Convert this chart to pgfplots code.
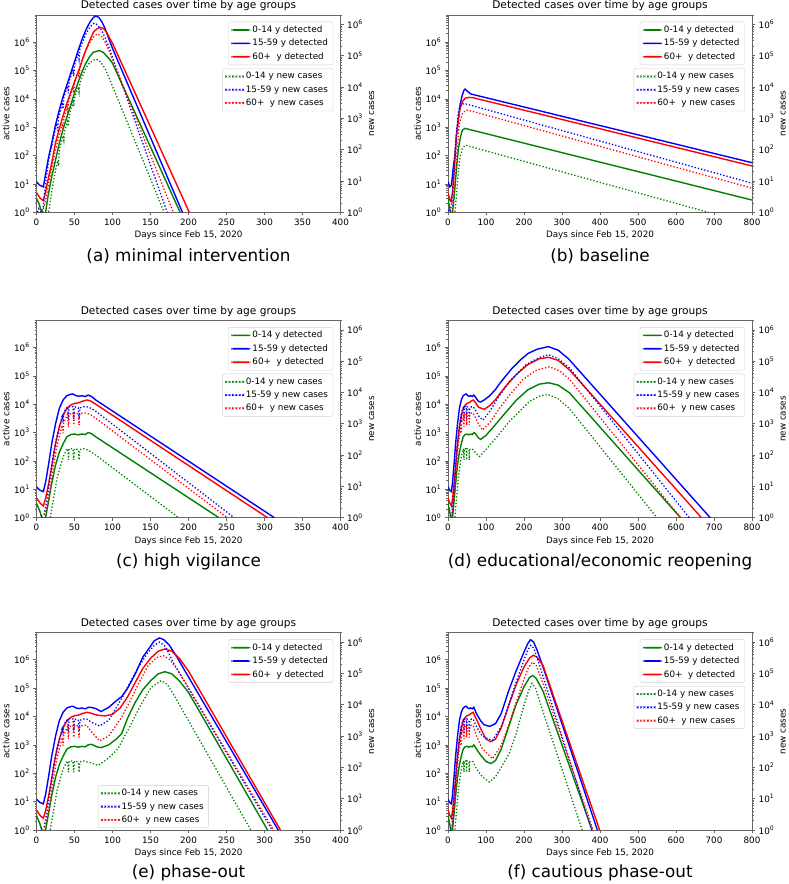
\documentclass[border=0pt]{standalone}
\usepackage{fontspec}
\setmainfont{DejaVu Sans}
\usepackage{pgfplots}
\pgfplotsset{compat=1.18}
\definecolor{cg}{rgb}{0,0.5,0}
\definecolor{cbl}{rgb}{0,0,1}
\definecolor{crd}{rgb}{1,0,0}
\definecolor{spine}{gray}{0.4}
\newcommand\tickf{\fontsize{8.8}{10}\selectfont}
\newcommand\labf{\fontsize{8.8}{10}\selectfont}
\newcommand\titf{\fontsize{10.6}{12}\selectfont}
\newcommand\capf{\fontsize{16.8}{19}\selectfont}
\pgfplotsset{
  scale only axis, width=304pt, height=197.3pt,
  xmin=0, ymin=1,
  axis line style={spine, line width=0.6pt},
  tick align=outside, major tick length=3.2pt, minor tick length=1.8pt,
  every tick/.append style={spine, line width=0.6pt},
  tick label style={font=\tickf, text=black},
  ytick={1,10,100,1000,10000,100000,1000000},
  yticklabels={10\textsuperscript{0},10\textsuperscript{1},10\textsuperscript{2},10\textsuperscript{3},10\textsuperscript{4},10\textsuperscript{5},10\textsuperscript{6}},
  minor ytick={2,3,4,5,6,7,8,9,20,30,40,50,60,70,80,90,200,300,400,500,600,700,800,900,2000,3000,4000,5000,6000,7000,8000,9000,2e4,3e4,4e4,5e4,6e4,7e4,8e4,9e4,2e5,3e5,4e5,5e5,6e5,7e5,8e5,9e5,2e6,3e6,4e6,5e6,6e6,7e6,8e6,9e6},
  legend cell align=left,
  legend image code/.code={\fill[#1, draw=none] (0pt,-0.85pt) rectangle (19pt,0.85pt);},
  legend style={draw=black!18, rounded corners=2pt, fill=white, font=\labf, inner xsep=3pt, inner ysep=2pt, row sep=1.2pt},
  xlabel style={font=\labf},
  ylabel style={font=\labf},
  title style={font=\titf},
  every axis title shift=0pt,
}
\newcommand\dotimg[1]{\fill[#1, draw=none] (0pt,-0.7pt) rectangle (1.4pt,0.7pt) (3.4pt,-0.7pt) rectangle (4.8pt,0.7pt) (6.8pt,-0.7pt) rectangle (8.2pt,0.7pt) (10.2pt,-0.7pt) rectangle (11.6pt,0.7pt) (13.6pt,-0.7pt) rectangle (15pt,0.7pt) (17pt,-0.7pt) rectangle (18.4pt,0.7pt);}
\begin{document}
\begin{tikzpicture}
\path[use as bounding box] (0,0) rectangle (789pt,884pt);
% ================= (a) =================
\begin{axis}[at={(36.5pt,671.7pt)}, anchor=south west, xmax=400, ymode=log, ymax=9e6,
  xtick={0,50,100,150,200,250,300,350,400}, xticklabels={0,50,100,150,200,250,300,350,400},
  xtick pos=left, ytick pos=left,
  xlabel={Days since Feb 15, 2020}, ylabel={active cases}, title={Detected cases over time by age groups},
  xlabel style={at={(axis description cs:0.5,-0.116)}, anchor=center},
  ylabel style={at={(axis description cs:-0.100,0.5)}, anchor=center},
  title style={at={(axis description cs:0.5,1.046)}, anchor=center},
  legend style={at={(0.976,0.966)}, anchor=north east}]
\addplot[color=cg, line width=1.4pt] coordinates {(0,3.1) (3,2.1) (7,1) (9,0.6) (12,1) (15,3.5) (20,18) (25,69) (30,270) (36,1050) (40,2300) (45,6000) (50,1.6e4) (55,4e4) (60,9.1e4) (65,1.8e5) (70,3.1e5) (75,4.4e5) (83,5e5) (88,4.3e5) (95,2.7e5) (100,1.8e5) (189,1)};
\addlegendentry{0-14 y detected}
\addplot[color=cbl, line width=1.4pt] coordinates {(0,12) (4,9.1) (9,7.9) (12,23) (16,91) (20,270) (25,1200) (30,4000) (35,1.2e4) (40,3.1e4) (45,7.9e4) (50,2e5) (55,5.2e5) (60,1.26e6) (65,2.7e6) (70,4.9e6) (75,7.4e6) (78,8.3e6) (82,7.4e6) (86,5.2e6) (90,3.1e6) (95,1.35e6) (100,6e5) (192,1)};
\addlegendentry{15-59 y detected}
\addplot[color=crd, line width=1.4pt] coordinates {(0,4.9) (5,3.1) (9,2.6) (12,5.4) (16,18) (20,54) (25,280) (30,890) (36,3100) (40,7100) (45,1.66e4) (50,4e4) (55,8.9e4) (60,2.2e5) (65,5.2e5) (70,1.12e6) (75,2.24e6) (80,3e6) (84,3.3e6) (88,3e6) (92,2.3e6) (96,1.4e6) (100,9.1e5) (201,1)};
\addlegendentry{60+\ \ y detected}
\end{axis}
\begin{axis}[at={(36.5pt,671.7pt)}, anchor=south west, xmax=400, ymode=log, ymax=2e6,
  axis x line=none, axis y line*=right, ylabel={new cases},
  ylabel style={at={(axis description cs:1.103,0.5)}, anchor=center},
  legend image code/.code={\dotimg{#1}},
  legend style={at={(0.976,0.73)}, anchor=north east}]
\addplot[color=cg, line width=1.3pt, dash pattern=on 1.3pt off 2pt] coordinates {(14,0.5) (16,1) (20,4.6) (25,22) (28,45) (29,30) (30,98) (35,280) (36,200) (37,400) (40,690) (41,800) (42,560) (43,1150) (45,1900) (48,3300) (49,2400) (50,4400) (55,1e4) (56,7000) (57,1.3e4) (60,2.1e4) (65,4e4) (70,6e4) (78,7.9e4) (84,6.5e4) (90,4e4) (95,2.1e4) (168,1)};
\addlegendentry{0-14 y new cases}
\addplot[color=cbl, line width=1.3pt, dash pattern=on 1.3pt off 2pt] coordinates {(0,0.8) (3,1.3) (6,1) (9,1.5) (12,8.5) (16,47) (20,126) (25,480) (27,690) (28,400) (29,1000) (34,3200) (35,2000) (36,4700) (41,1.07e4) (42,6300) (43,1.5e4) (48,3.6e4) (49,2.24e4) (50,5.1e4) (55,1.2e5) (56,7.9e4) (57,1.58e5) (60,2.5e5) (65,5e5) (70,8.1e5) (76,1.1e6) (80,9.8e5) (85,6.8e5) (90,3.9e5) (95,1.95e5) (172,1)};
\addlegendentry{15-59 y new cases}
\addplot[color=crd, line width=1.3pt, dash pattern=on 1.3pt off 2pt] coordinates {(5,0.5) (8,1) (12,2.5) (16,8.5) (20,26) (25,98) (30,295) (34,690) (35,450) (36,1000) (40,2400) (41,1600) (42,3200) (45,5600) (48,1e4) (49,6600) (50,1.3e4) (55,3.1e4) (56,2e4) (57,3.8e4) (60,7.4e4) (65,1.55e5) (70,2.6e5) (75,3.9e5) (80,5e5) (85,4.3e5) (90,2.8e5) (95,1.55e5) (180,1)};
\addlegendentry{60+\ \ y new cases}
\end{axis}
% ================= (b) =================
\begin{axis}[at={(448pt,671.7pt)}, anchor=south west, xmax=800, ymode=log, ymax=9e6,
  xtick={0,100,200,300,400,500,600,700,800}, xticklabels={0,100,200,300,400,500,600,700,800},
  xtick pos=left, ytick pos=left,
  xlabel={Days since Feb 15, 2020}, ylabel={active cases}, title={Detected cases over time by age groups},
  xlabel style={at={(axis description cs:0.5,-0.116)}, anchor=center},
  ylabel style={at={(axis description cs:-0.100,0.5)}, anchor=center},
  title style={at={(axis description cs:0.5,1.046)}, anchor=center},
  legend style={at={(0.976,0.966)}, anchor=north east}]
\addplot[color=cg, line width=1.4pt] coordinates {(0,3.1) (5,1.2) (8,0.7) (12,1) (17,4.7) (22,31) (27,160) (33,470) (38,790) (45,910) (50,870) (800,2.7)};
\addlegendentry{0-14 y detected}
\addplot[color=cbl, line width=1.4pt] coordinates {(0,12) (5,7.9) (9,8.9) (14,40) (18,100) (22,500) (27,1800) (32,6300) (37,1.26e4) (42,2e4) (45,2.2e4) (50,1.9e4) (60,1.48e4) (800,56)};
\addlegendentry{15-59 y detected}
\addplot[color=crd, line width=1.4pt] coordinates {(0,4.9) (5,2.7) (8,2.4) (12,5.4) (18,69) (22,470) (27,1800) (32,4700) (38,7900) (45,1.05e4) (55,1.12e4) (65,1.1e4) (800,43)};
\addlegendentry{60+\ \ y detected}
\end{axis}
\begin{axis}[at={(448pt,671.7pt)}, anchor=south west, xmax=800, ymode=log, ymax=2e6,
  axis x line=none, axis y line*=right, ylabel={new cases},
  ylabel style={at={(axis description cs:1.103,0.5)}, anchor=center},
  legend image code/.code={\dotimg{#1}},
  legend style={at={(0.976,0.73)}, anchor=north east}]
\addplot[color=cg, line width=1.3pt, dash pattern=on 1.3pt off 2pt] coordinates {(16,0.5) (18,1) (22,3.2) (27,18) (32,60) (38,110) (45,140) (685,1)};
\addlegendentry{0-14 y new cases}
\addplot[color=cbl, line width=1.3pt, dash pattern=on 1.3pt off 2pt] coordinates {(0,1.2) (3,0.8) (8,1.5) (12,3.2) (18,47) (23,430) (28,1900) (35,2700) (42,3000) (800,8.5)};
\addlegendentry{15-59 y new cases}
\addplot[color=crd, line width=1.3pt, dash pattern=on 1.3pt off 2pt] coordinates {(7,0.6) (10,1) (14,2.5) (18,8.5) (24,98) (30,690) (38,1450) (48,1860) (55,1800) (800,5.9)};
\addlegendentry{60+\ \ y new cases}
\end{axis}
% ================= (c) =================
\begin{axis}[at={(36.5pt,366.3pt)}, anchor=south west, xmax=400, ymode=log, ymax=9e6,
  xtick={0,50,100,150,200,250,300,350,400}, xticklabels={0,50,100,150,200,250,300,350,400},
  xtick pos=left, ytick pos=left,
  xlabel={Days since Feb 15, 2020}, ylabel={active cases}, title={Detected cases over time by age groups},
  xlabel style={at={(axis description cs:0.5,-0.116)}, anchor=center},
  ylabel style={at={(axis description cs:-0.100,0.5)}, anchor=center},
  title style={at={(axis description cs:0.5,1.046)}, anchor=center},
  legend style={at={(0.976,0.966)}, anchor=north east}]
\addplot[color=cg, line width=1.4pt] coordinates {(0,3.2) (4,1.8) (7,1) (9,0.6) (12,1) (16,4) (20,16) (25,71) (30,200) (35,400) (40,710) (45,850) (50,890) (55,830) (60,890) (64,850) (68,1000) (72,930) (78,710) (240,1)};
\addlegendentry{0-14 y detected}
\addplot[color=cbl, line width=1.4pt] coordinates {(0,12.3) (4,9.5) (9,8.3) (12,18) (16,79) (20,400) (25,2000) (30,7100) (35,1.41e4) (40,2e4) (45,2.24e4) (48,2.3e4) (52,2e4) (56,1.9e4) (60,2e4) (64,1.86e4) (68,2.1e4) (72,1.9e4) (78,1.41e4) (313,1)};
\addlegendentry{15-59 y detected}
\addplot[color=crd, line width=1.4pt] coordinates {(0,5) (5,3.2) (9,2.6) (12,4.8) (16,16) (20,63) (25,400) (30,1600) (35,4000) (40,7100) (45,9300) (50,1.07e4) (55,1.12e4) (60,1.26e4) (66,1.41e4) (70,1.35e4) (78,1e4) (304,1)};
\addlegendentry{60+\ \ y detected}
\end{axis}
\begin{axis}[at={(36.5pt,366.3pt)}, anchor=south west, xmax=400, ymode=log, ymax=2e6,
  axis x line=none, axis y line*=right, ylabel={new cases},
  ylabel style={at={(axis description cs:1.103,0.5)}, anchor=center},
  legend image code/.code={\dotimg{#1}},
  legend style={at={(0.976,0.73)}, anchor=north east}]
\addplot[color=cg, line width=1.3pt, dash pattern=on 1.3pt off 2pt] coordinates {(15,0.5) (18,1) (22,3.5) (27,18) (32,50) (36,100) (40,150) (41,160) (42,70) (43,160) (48,160) (49,70) (50,160) (55,150) (56,70) (57,150) (62,160) (66,150) (72,125) (78,100) (187,1)};
\addlegendentry{0-14 y new cases}
\addplot[color=cbl, line width=1.3pt, dash pattern=on 1.3pt off 2pt] coordinates {(3,0.7) (6,1.1) (10,1.26) (14,4) (18,20) (22,100) (27,400) (32,1100) (34,2000) (35,1100) (36,2400) (40,3200) (41,3500) (42,1400) (43,3500) (48,3500) (49,1400) (50,3500) (55,3200) (56,1400) (57,3200) (62,3500) (66,3500) (72,3100) (78,2500) (260,1)};
\addlegendentry{15-59 y new cases}
\addplot[color=crd, line width=1.3pt, dash pattern=on 1.3pt off 2pt] coordinates {(7,0.6) (10,1) (14,2.5) (18,8) (22,40) (27,200) (32,600) (34,900) (35,500) (36,1100) (40,1800) (41,2000) (42,800) (43,2000) (48,2200) (49,900) (50,2200) (55,2100) (56,900) (57,2100) (62,2200) (66,2200) (72,1900) (78,1500) (251,1)};
\addlegendentry{60+\ \ y new cases}
\end{axis}
% ================= (d) =================
\begin{axis}[at={(448pt,366.3pt)}, anchor=south west, xmax=800, ymode=log, ymax=9e6,
  xtick={0,100,200,300,400,500,600,700,800}, xticklabels={0,100,200,300,400,500,600,700,800},
  xtick pos=left, ytick pos=left,
  xlabel={Days since Feb 15, 2020}, ylabel={active cases}, title={Detected cases over time by age groups},
  xlabel style={at={(axis description cs:0.5,-0.116)}, anchor=center},
  ylabel style={at={(axis description cs:-0.100,0.5)}, anchor=center},
  title style={at={(axis description cs:0.5,1.046)}, anchor=center},
  legend style={at={(0.976,0.966)}, anchor=north east}]
\addplot[color=cg, line width=1.4pt] coordinates {(0,3.2) (4,1.8) (7,1) (9,0.6) (12,1) (16,4) (20,16) (25,71) (30,200) (35,400) (40,710) (45,850) (50,890) (55,830) (60,890) (64,850) (68,1000) (72,930) (80,650) (86,575) (100,800) (120,1600) (150,4800) (180,1.4e4) (210,3.2e4) (240,5.1e4) (265,5.7e4) (290,4.7e4) (320,2.5e4) (612,1)};
\addlegendentry{0-14 y detected}
\addplot[color=cbl, line width=1.4pt] coordinates {(0,12.3) (4,9.5) (9,8.3) (12,18) (16,79) (20,400) (25,2000) (30,7100) (35,1.41e4) (40,2e4) (45,2.24e4) (48,2.3e4) (52,2e4) (56,1.9e4) (60,2e4) (64,1.86e4) (68,2.1e4) (72,1.8e4) (80,1.26e4) (86,1.2e4) (95,1.4e4) (110,2e4) (124,3.2e4) (140,6.3e4) (168,1.8e5) (190,3.6e5) (211,6.2e5) (235,8.7e5) (264,1.07e6) (290,8e5) (317,4e5) (690,1)};
\addlegendentry{15-59 y detected}
\addplot[color=crd, line width=1.4pt] coordinates {(0,5) (5,3.2) (9,2.6) (12,4.8) (16,16) (20,63) (25,400) (30,1600) (35,4000) (40,7100) (45,9300) (50,1.07e4) (55,1.12e4) (60,1.26e4) (66,1.41e4) (70,1.26e4) (80,7900) (95,6600) (110,8900) (124,1.41e4) (150,4e4) (180,1.12e5) (210,2.5e5) (240,4e5) (265,4.5e5) (290,3.5e5) (320,1.6e5) (667,1)};
\addlegendentry{60+\ \ y detected}
\end{axis}
\begin{axis}[at={(448pt,366.3pt)}, anchor=south west, xmax=800, ymode=log, ymax=2e6,
  axis x line=none, axis y line*=right, ylabel={new cases},
  ylabel style={at={(axis description cs:1.103,0.5)}, anchor=center},
  legend image code/.code={\dotimg{#1}},
  legend style={at={(0.976,0.73)}, anchor=north east}]
\addplot[color=cg, line width=1.3pt, dash pattern=on 1.3pt off 2pt] coordinates {(15,0.5) (18,1) (22,3.5) (27,18) (32,50) (36,100) (40,150) (41,160) (42,70) (43,160) (48,160) (49,70) (50,160) (55,150) (56,70) (57,150) (62,160) (66,150) (72,120) (83,90) (100,150) (130,400) (161,1170) (214,5100) (240,7600) (262,8700) (290,6300) (320,3000) (550,1)};
\addlegendentry{0-14 y new cases}
\addplot[color=cbl, line width=1.3pt, dash pattern=on 1.3pt off 2pt] coordinates {(3,0.7) (6,1.1) (10,1.26) (14,4) (18,20) (22,100) (27,400) (32,1100) (34,2000) (35,1100) (36,2400) (40,3200) (41,3500) (42,1400) (43,3500) (48,3500) (49,1400) (50,3500) (55,3200) (56,1400) (57,3200) (62,3500) (66,3500) (72,2800) (80,1800) (92,1300) (110,2500) (130,6300) (161,2.2e4) (205,7.6e4) (240,1.3e5) (265,1.6e5) (290,1.2e5) (320,6e4) (635,1)};
\addlegendentry{15-59 y new cases}
\addplot[color=crd, line width=1.3pt, dash pattern=on 1.3pt off 2pt] coordinates {(7,0.6) (10,1) (14,2.5) (18,8) (22,40) (27,200) (32,600) (34,900) (35,500) (36,1100) (40,1800) (41,2000) (42,800) (43,2000) (48,2200) (49,900) (50,2200) (55,2100) (56,900) (57,2100) (62,2200) (66,2200) (72,1600) (80,1000) (91,630) (110,1100) (130,2500) (161,8000) (196,2.5e4) (230,5e4) (267,6.6e4) (295,4.8e4) (320,2.6e4) (612,1)};
\addlegendentry{60+\ \ y new cases}
\end{axis}
% ================= (e) =================
\begin{axis}[at={(36.5pt,54pt)}, anchor=south west, xmax=400, ymode=log, ymax=9e6,
  xtick={0,50,100,150,200,250,300,350,400}, xticklabels={0,50,100,150,200,250,300,350,400},
  xtick pos=left, ytick pos=left,
  xlabel={Days since Feb 15, 2020}, ylabel={active cases}, title={Detected cases over time by age groups},
  xlabel style={at={(axis description cs:0.5,-0.116)}, anchor=center},
  ylabel style={at={(axis description cs:-0.100,0.5)}, anchor=center},
  title style={at={(axis description cs:0.5,1.046)}, anchor=center},
  legend style={at={(0.976,0.966)}, anchor=north east}]
\addplot[color=cg, line width=1.4pt] coordinates {(0,3.2) (4,1.8) (7,1) (9,0.6) (12,1) (16,4) (20,16) (25,71) (30,200) (35,400) (40,710) (45,850) (50,890) (55,830) (60,890) (64,850) (68,1000) (72,1050) (80,850) (85,800) (95,1000) (105,1600) (112,2500) (120,8900) (130,3.2e4) (140,8.9e4) (150,1.8e5) (160,3.2e5) (169,3.8e5) (178,3.2e5) (188,1.8e5) (200,7.1e4) (304,1)};
\addlegendentry{0-14 y detected}
\addplot[color=cbl, line width=1.4pt] coordinates {(0,12.3) (4,9.5) (9,8.3) (12,18) (16,79) (20,400) (25,2000) (30,7100) (35,1.41e4) (40,2e4) (45,2.24e4) (48,2.3e4) (52,2e4) (56,1.9e4) (60,2e4) (64,1.86e4) (68,2.1e4) (72,2.1e4) (78,1.9e4) (85,1.5e4) (95,2.1e4) (105,3.6e4) (112,5e4) (120,1e5) (130,3.2e5) (140,1.26e6) (148,2.5e6) (155,4.7e6) (162,5.9e6) (168,5e6) (175,3.2e6) (185,1.23e6) (195,4.2e5) (318,1)};
\addlegendentry{15-59 y detected}
\addplot[color=crd, line width=1.4pt] coordinates {(0,5) (5,3.2) (9,2.6) (12,4.8) (16,16) (20,63) (25,400) (30,1600) (35,4000) (40,7100) (45,9300) (50,1.07e4) (55,1.12e4) (60,1.26e4) (66,1.41e4) (70,1.35e4) (80,1.12e4) (90,1.05e4) (100,1.2e4) (110,2e4) (120,5e4) (130,1.6e5) (140,5e5) (150,1.12e6) (160,2e6) (169,2.4e6) (178,2e6) (188,1.12e6) (200,4e5) (321,1)};
\addlegendentry{60+\ \ y detected}
\end{axis}
\begin{axis}[at={(36.5pt,54pt)}, anchor=south west, xmax=400, ymode=log, ymax=2e6,
  axis x line=none, axis y line*=right, ylabel={new cases},
  ylabel style={at={(axis description cs:1.103,0.5)}, anchor=center},
  legend image code/.code={\dotimg{#1}},
  legend style={at={(0.202,0.01)}, anchor=south west}]
\addplot[color=cg, line width=1.3pt, dash pattern=on 1.3pt off 2pt] coordinates {(15,0.5) (18,1) (22,3.5) (27,18) (32,50) (36,100) (40,150) (41,160) (42,70) (43,160) (48,160) (49,70) (50,160) (55,150) (56,70) (57,150) (62,160) (66,150) (72,140) (81,115) (95,200) (107,390) (120,1500) (138,1.07e4) (151,3.6e4) (164,5.9e4) (172,4.5e4) (180,2.2e4) (282,1)};
\addlegendentry{0-14 y new cases}
\addplot[color=cbl, line width=1.3pt, dash pattern=on 1.3pt off 2pt] coordinates {(3,0.7) (6,1.1) (10,1.26) (14,4) (18,20) (22,100) (27,400) (32,1100) (34,2000) (35,1100) (36,2400) (40,3200) (41,3500) (42,1400) (43,3500) (48,3500) (49,1400) (50,3500) (55,3200) (56,1400) (57,3200) (62,3500) (66,3500) (72,2800) (83,2100) (95,3200) (112,1.55e4) (125,6.3e4) (134,1.6e5) (147,4.8e5) (155,7.9e5) (162,1e6) (170,7.1e5) (180,2.2e5) (310,1)};
\addlegendentry{15-59 y new cases}
\addplot[color=crd, line width=1.3pt, dash pattern=on 1.3pt off 2pt] coordinates {(7,0.6) (10,1) (14,2.5) (18,8) (22,40) (27,200) (32,600) (34,900) (35,500) (36,1100) (40,1800) (41,2000) (42,800) (43,2000) (48,2200) (49,900) (50,2200) (55,2100) (56,900) (57,2100) (62,2200) (66,2200) (72,1400) (83,700) (95,1000) (112,4000) (125,1.6e4) (134,4.6e4) (147,1.8e5) (158,3.2e5) (167,3.7e5) (175,2.8e5) (185,1.4e5) (312,1)};
\addlegendentry{60+\ \ y new cases}
\end{axis}
% ================= (f) =================
\begin{axis}[at={(448pt,54pt)}, anchor=south west, xmax=800, ymode=log, ymax=9e6,
  xtick={0,100,200,300,400,500,600,700,800}, xticklabels={0,100,200,300,400,500,600,700,800},
  xtick pos=left, ytick pos=left,
  xlabel={Days since Feb 15, 2020}, ylabel={active cases}, title={Detected cases over time by age groups},
  xlabel style={at={(axis description cs:0.5,-0.116)}, anchor=center},
  ylabel style={at={(axis description cs:-0.100,0.5)}, anchor=center},
  title style={at={(axis description cs:0.5,1.046)}, anchor=center},
  legend style={at={(0.976,0.966)}, anchor=north east}]
\addplot[color=cg, line width=1.4pt] coordinates {(0,3.2) (4,1.8) (7,1) (9,0.6) (12,1) (16,4) (20,16) (25,71) (30,200) (35,400) (40,710) (45,850) (50,890) (55,830) (60,890) (64,850) (68,1000) (75,710) (85,450) (100,260) (113,220) (125,280) (140,710) (160,4500) (180,2.8e4) (200,1.12e5) (215,2.4e5) (223,2.8e5) (232,2.2e5) (250,7.9e4) (379,1)};
\addlegendentry{0-14 y detected}
\addplot[color=cbl, line width=1.4pt] coordinates {(0,12.3) (4,9.5) (9,8.3) (12,18) (16,79) (20,400) (25,2000) (30,7100) (35,1.41e4) (40,2e4) (45,2.24e4) (48,2.3e4) (52,2e4) (56,1.9e4) (60,2e4) (64,1.86e4) (68,2.1e4) (75,1.26e4) (85,7400) (95,5100) (110,4500) (125,5600) (140,1.26e4) (160,8.3e4) (180,4.3e5) (200,1.86e6) (210,3.7e6) (217,5.1e6) (225,4.3e6) (235,2.1e6) (250,5.6e5) (393,1)};
\addlegendentry{15-59 y detected}
\addplot[color=crd, line width=1.4pt] coordinates {(0,5) (5,3.2) (9,2.6) (12,4.8) (16,16) (20,63) (25,400) (30,1600) (35,4000) (40,7100) (45,9300) (50,1.07e4) (55,1.12e4) (60,1.26e4) (66,1.41e4) (75,7900) (85,4000) (100,1600) (112,1300) (125,1600) (140,4000) (160,2.5e4) (180,1.4e5) (200,5.6e5) (215,1.17e6) (225,1.45e6) (235,1.2e6) (250,6.3e5) (399,1)};
\addlegendentry{60+\ \ y detected}
\end{axis}
\begin{axis}[at={(448pt,54pt)}, anchor=south west, xmax=800, ymode=log, ymax=2e6,
  axis x line=none, axis y line*=right, ylabel={new cases},
  ylabel style={at={(axis description cs:1.103,0.5)}, anchor=center},
  legend image code/.code={\dotimg{#1}},
  legend style={at={(0.976,0.73)}, anchor=north east}]
\addplot[color=cg, line width=1.3pt, dash pattern=on 1.3pt off 2pt] coordinates {(15,0.5) (18,1) (22,3.5) (27,18) (32,50) (36,100) (40,150) (41,160) (42,70) (43,160) (48,160) (49,70) (50,160) (55,150) (56,70) (57,150) (62,160) (66,150) (75,90) (90,50) (109,34) (125,50) (140,100) (161,275) (180,1260) (196,6600) (212,2.8e4) (221,4.8e4) (230,3.5e4) (249,6600) (353,1)};
\addlegendentry{0-14 y new cases}
\addplot[color=cbl, line width=1.3pt, dash pattern=on 1.3pt off 2pt] coordinates {(3,0.7) (6,1.1) (10,1.26) (14,4) (18,20) (22,100) (27,400) (32,1100) (34,2000) (35,1100) (36,2400) (40,3200) (41,3500) (42,1400) (43,3500) (48,3500) (49,1400) (50,3500) (55,3200) (56,1400) (57,3200) (62,3500) (66,3500) (75,2000) (90,1000) (117,720) (140,2000) (161,1.1e4) (180,5.6e4) (196,2e5) (210,5.6e5) (218,7.9e5) (226,6.3e5) (240,2e5) (378,1)};
\addlegendentry{15-59 y new cases}
\addplot[color=crd, line width=1.3pt, dash pattern=on 1.3pt off 2pt] coordinates {(7,0.6) (10,1) (14,2.5) (18,8) (22,40) (27,200) (32,600) (34,900) (35,500) (36,1100) (40,1800) (41,2000) (42,800) (43,2000) (48,2200) (49,900) (50,2200) (55,2100) (56,900) (57,2100) (62,2200) (66,2200) (75,1000) (90,400) (117,190) (140,500) (161,2500) (180,1.26e4) (196,4.8e4) (212,1.6e5) (223,2.3e5) (232,1.8e5) (245,7.1e4) (382,1)};
\addlegendentry{60+\ \ y new cases}
\end{axis}
% captions
\node[font=\capf] at (188.5pt,628pt) {(a) minimal intervention};
\node[font=\capf] at (600pt,628pt) {(b) baseline};
\node[font=\capf] at (188.5pt,322.3pt) {(c) high vigilance};
\node[font=\capf] at (600pt,322.3pt) {(d) educational/economic reopening};
\node[font=\capf] at (188.5pt,11pt) {(e) phase-out};
\node[font=\capf] at (600pt,11pt) {(f) cautious phase-out};
\end{tikzpicture}
\end{document}
